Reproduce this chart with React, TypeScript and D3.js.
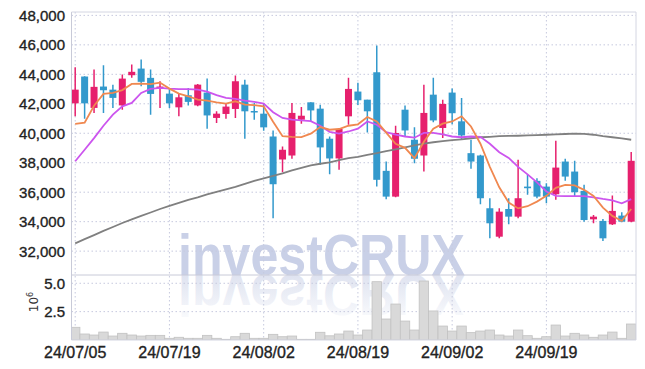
import React from "react";
import * as d3 from "d3";

const dates = [
  "24/07/05", "24/07/08", "24/07/09", "24/07/10", "24/07/11", "24/07/12",
  "24/07/15", "24/07/16", "24/07/17", "24/07/18", "24/07/19",
  "24/07/22", "24/07/23", "24/07/24", "24/07/25", "24/07/26",
  "24/07/29", "24/07/30", "24/07/31", "24/08/01", "24/08/02",
  "24/08/05", "24/08/06", "24/08/07", "24/08/08", "24/08/09",
  "24/08/12", "24/08/13", "24/08/14", "24/08/16", "24/08/19",
  "24/08/20", "24/08/21", "24/08/22", "24/08/23", "24/08/26",
  "24/08/27", "24/08/28", "24/08/29", "24/08/30", "24/09/02",
  "24/09/03", "24/09/04", "24/09/05", "24/09/06", "24/09/09",
  "24/09/10", "24/09/11", "24/09/12", "24/09/13", "24/09/19",
  "24/09/20", "24/09/23", "24/09/24", "24/09/25", "24/09/26",
  "24/09/27", "24/09/30", "24/10/02", "24/10/04",
];

const openP = [
  42030, 43850, 41720, 43170, 42960, 41890, 43940, 44390, 43760, 43010,
  42690, 41760, 42580, 41890, 42760, 41040, 41310, 41650, 43300, 41510,
  41330, 39780, 38220, 38490, 40920, 42100, 41670, 39630, 38290, 41150,
  42830, 42280, 44140, 37450, 35700, 41600, 39560, 38490, 42620, 40360,
  42760, 40810, 38650, 38490, 34910, 32980, 34860, 34340, 36380, 36770,
  36380, 35860, 38080, 37400, 36090, 34160, 34050, 33820, 34410, 34000,
];
const highP = [
  44480, 43870, 44320, 44620, 43300, 43980, 44660, 45000, 44320, 43530,
  43080, 42740, 43080, 43350, 43710, 41490, 42060, 43920, 43640, 42060,
  41990, 40190, 39100, 42060, 41790, 42100, 41940, 39780, 40360, 43760,
  43420, 42280, 45960, 38080, 40510, 41890, 40400, 43300, 43760, 42280,
  43030, 42400, 39560, 38540, 35590, 34910, 35590, 38200, 37220, 36950,
  36610, 39490, 38270, 38130, 36500, 34450, 34180, 35770, 34640, 38720,
];
const lowP = [
  41150, 40980, 41380, 41380, 41720, 41600, 43760, 43190, 41260, 41720,
  41720, 41150, 41890, 41830, 40310, 40700, 40990, 41040, 39630, 40920,
  40170, 34230, 37360, 38270, 40650, 40810, 37860, 37220, 37520, 40580,
  41920, 40060, 36380, 35520, 35660, 39780, 37970, 37400, 40740, 39680,
  40610, 39560, 37590, 35180, 32870, 32870, 33820, 34230, 35820, 35590,
  35250, 35480, 36770, 35700, 34000, 33890, 32680, 33770, 33960, 33960,
];
const closeP = [
  42960, 42030, 43150, 42920, 42400, 43710, 44170, 43490, 42670, 43170,
  42030, 42440, 42130, 43300, 41210, 41330, 41810, 43530, 41490, 41470,
  40400, 36540, 38880, 41380, 41190, 41550, 39040, 38290, 40290, 43010,
  42240, 41490, 36840, 35700, 40020, 40190, 38270, 41380, 40870, 41990,
  41360, 39850, 38080, 35590, 33890, 34680, 34340, 35590, 36270, 35700,
  35700, 37670, 37060, 36000, 34110, 34340, 32870, 34730, 34000, 38130,
];

// volume, in millions of shares
const volume = [
  1.12, 0.53, 0.44, 0.70, 0.35, 0.59, 0.44, 0.35, 0.41, 0.41,
  0.15, 0.24, 0.15, 0.15, 0.41, 0.15, 0.06, 0.29, 0.59, 0.15,
  0.15, 0.50, 0.29, 0.35, 0.06, 0.06, 0.68, 0.37, 0.53, 0.79,
  0.44, 0.88, 5.14, 1.85, 3.17, 1.67, 0.88, 5.20, 2.56, 1.23,
  0.79, 1.23, 0.65, 0.79, 0.88, 0.44, 0.35, 0.88, 0.38, 0.15,
  0.29, 1.32, 0.35, 0.59, 0.44, 0.24, 0.44, 0.70, 0.15, 1.41,
];

// moving averages
const ma5 = [
  40630, 40720, 41870, 42670, 42740, 42930, 43350, 43370, 43340, 43440,
  43030, 42690, 42510, 42280, 42210, 42100, 42010, 42170, 41940, 41910,
  41830, 40780, 39800, 39760, 39740, 39970, 40420, 40240, 40290, 40510,
  40610, 41100, 40800, 40040, 39290, 39010, 38310, 39420, 40310, 40650,
  40800, 41150, 40460, 39290, 37720, 36330, 35300, 34900, 35050, 35360,
  35750, 36290, 36500, 36460, 36160, 35750, 34950, 34390, 34050, 34860,
];
const ma10 = [
  38100, 38880, 39670, 40510, 41260, 41830, 42060, 42740, 43010, 43080,
  43030, 43000, 43000, 42960, 42830, 42590, 42400, 42340, 42210, 42130,
  42020, 41430, 41040, 40920, 40870, 40820, 40510, 40100, 39970, 40120,
  40310, 40800, 40580, 40070, 39900, 39780, 39700, 40020, 40020, 39930,
  39780, 39730, 39780, 39760, 39290, 38710, 38330, 37720, 37210, 36670,
  36050, 35750, 35730, 35730, 35740, 35650, 35540, 35450, 35250, 35530,
];
const ma60 = [
  32530, 32810, 33090, 33370, 33640, 33910, 34150, 34390, 34620, 34860,
  35070, 35270, 35480, 35650, 35850, 36020, 36190, 36360, 36560, 36770,
  36940, 37110, 37280, 37480, 37650, 37820, 37930, 38030, 38180, 38310,
  38400, 38540, 38650, 38780, 38910, 39050, 39180, 39290, 39390, 39460,
  39530, 39590, 39660, 39730, 39760, 39800, 39820, 39830, 39850, 39880,
  39900, 39920, 39950, 39970, 39960, 39900, 39800, 39730, 39660, 39560,
];

const priceTicks = [32000, 34000, 36000, 38000, 40000, 42000, 44000, 46000, 48000];
const volumeTicks = [2.5, 5.0];
const dateTicks = ["24/07/05", "24/07/19", "24/08/02", "24/08/19", "24/09/02", "24/09/19"];

const UP = "#e6206d";
const DOWN = "#3399cc";
const GRID = "#c6c9de";
const FONT = "'Liberation Sans Narrow', 'Liberation Sans', Roboto, sans-serif";

export default function App() {
  const W = 645, H = 369;
  const left = 71.5, right = 636, pTop = 12, pBot = 275, vBot = 340;

  const x = d3.scaleLinear().domain([0, dates.length - 1]).range([75.2, 631.2]);
  const step = x(1) - x(0);
  const y = d3.scaleLinear().domain([30380, 48230]).range([pBot, pTop]);
  const yv = d3.scaleLinear().domain([0, 5.73]).range([vBot, pBot]);

  const lineGen = d3.line<number>().x((_, i) => x(i)).y((d) => y(d)).curve(d3.curveLinear);
  const bodyW = 7;

  return (
    <svg width={W} height={H} style={{ position: "absolute", left: 0, top: 0, background: "#fff" }}>
      <defs>
        <clipPath id="plotClip">
          <rect x={left} y={pTop} width={right - left} height={vBot - pTop} />
        </clipPath>
        <linearGradient id="reflGrad" gradientUnits="userSpaceOnUse" x1="0" y1="275" x2="0" y2="230">
          <stop offset="0" stopColor="#dfe3f0" />
          <stop offset="1" stopColor="#fafbfd" />
        </linearGradient>
      </defs>

      {/* watermark */}
      <text x={178} y={pBot} fontFamily={FONT} fontWeight="bold" fontSize={58}
        fill="#c9d0e7" textLength={287} lengthAdjust="spacingAndGlyphs">investCRUX</text>
      <g transform={`translate(0,${2 * pBot}) scale(1,-1)`}>
        <text x={178} y={pBot} fontFamily={FONT} fontWeight="bold" fontSize={58}
          fill="url(#reflGrad)" textLength={287} lengthAdjust="spacingAndGlyphs">investCRUX</text>
      </g>

      {/* grid */}
      {priceTicks.map((t) => (
        <line key={"pg" + t} x1={left} x2={right} y1={y(t)} y2={y(t)} stroke={GRID} strokeDasharray="1.5,2.5" />
      ))}
      {volumeTicks.map((t) => (
        <line key={"vg" + t} x1={left} x2={right} y1={yv(t)} y2={yv(t)} stroke={GRID} strokeDasharray="1.5,2.5" />
      ))}
      {dateTicks.map((d) => {
        const xi = x(dates.indexOf(d));
        return <line key={"xg" + d} x1={xi} x2={xi} y1={pTop} y2={vBot} stroke={GRID} strokeDasharray="1.5,2.5" />;
      })}

      <g clipPath="url(#plotClip)">
        {/* volume bars */}
        {volume.map((v, i) => (
          <rect key={"v" + i} x={x(i) - step / 2} y={yv(v)} width={step} height={vBot - yv(v)}
            fill="#d9d9d9" stroke="#c2c2c2" strokeWidth={0.8} />
        ))}

        {/* candles */}
        {openP.map((o, i) => {
          const c = closeP[i];
          const col = c >= o ? UP : DOWN;
          const top = y(Math.max(o, c));
          const bot = y(Math.min(o, c));
          return (
            <g key={"c" + i}>
              <line x1={x(i)} x2={x(i)} y1={y(highP[i])} y2={y(lowP[i])} stroke={col} strokeWidth={1.5} />
              <rect x={x(i) - bodyW / 2} y={top} width={bodyW} height={Math.max(bot - top, 1.5)} fill={col} />
            </g>
          );
        })}

        {/* moving averages */}
        <path d={lineGen(ma60) || ""} fill="none" stroke="#808080" strokeWidth={1.8} />
        <path d={lineGen(ma10) || ""} fill="none" stroke="#cc55ee" strokeWidth={1.8} />
        <path d={lineGen(ma5) || ""} fill="none" stroke="#f08850" strokeWidth={1.8} />
      </g>

      {/* frame */}
      <line x1={left} x2={left} y1={pTop} y2={vBot} stroke="#c8cad8" />
      <line x1={right} x2={right} y1={pTop} y2={vBot} stroke="#d4d6e2" />
      <line x1={left} x2={right} y1={pTop} y2={pTop} stroke="#d4d6e2" />
      <line x1={left} x2={right} y1={pBot} y2={pBot} stroke="#c8cad8" />
      <line x1={left} x2={right} y1={vBot} y2={vBot} stroke="#d4d6e2" />

      {/* y tick labels */}
      {priceTicks.map((t) => (
        <text key={"pl" + t} x={65} y={y(t)} dy="0.36em" textAnchor="end" fontFamily={FONT}
          fontSize={15} fill="#222" stroke="#222" strokeWidth={0.35}>{d3.format(",")(t)}</text>
      ))}
      {volumeTicks.map((t) => (
        <text key={"vl" + t} x={65} y={yv(t)} dy="0.36em" textAnchor="end" fontFamily={FONT}
          fontSize={15} fill="#222" stroke="#222" strokeWidth={0.35}>{d3.format(".1f")(t)}</text>
      ))}
      <text transform="translate(38,302) rotate(-90)" textAnchor="middle" fontFamily="'DejaVu Sans', sans-serif"
        fontSize={12} fill="#333">10<tspan dy="-5" fontSize={8}>6</tspan></text>

      {/* x tick labels */}
      {dateTicks.map((d) => (
        <text key={"xl" + d} x={x(dates.indexOf(d))} y={352} dy="0.36em" textAnchor="middle" fontFamily={FONT}
          fontSize={16} fill="#222" stroke="#222" strokeWidth={0.35}>{d}</text>
      ))}
    </svg>
  );
}
